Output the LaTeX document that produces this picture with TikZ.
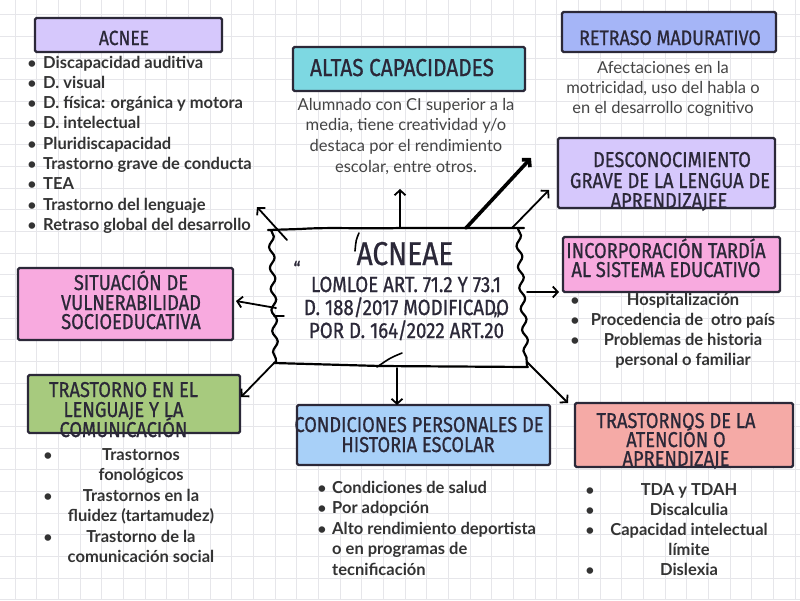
\documentclass[tikz,border=0pt]{standalone}
\usepackage{fontspec}
\setmainfont{Lato}
\newfontfamily\headfont[FakeStretch=0.85,FakeBold=0.8]{Fira Sans}
\usetikzlibrary{arrows.meta,decorations.pathmorphing}
\definecolor{ink}{HTML}{2B2838}
\definecolor{txt}{HTML}{333333}
\definecolor{dtxt}{HTML}{444444}
\definecolor{gridc}{HTML}{E6E6EA}
\definecolor{cLav}{HTML}{D6C8FC}
\definecolor{cCyan}{HTML}{7DD8E2}
\definecolor{cPeri}{HTML}{A5B5F7}
\definecolor{cPink}{HTML}{F8AADF}
\definecolor{cGreen}{HTML}{A7CA7E}
\definecolor{cBlue}{HTML}{A8D0F8}
\definecolor{cSalmon}{HTML}{F5AAA6}
\tikzset{
 hbox/.style={draw=ink, line width=2.2pt, rounded corners=1.5pt, inner sep=0pt},
 hline/.style={font={\headfont\fontsize{#1}{#1}\selectfont}, text=ink, inner sep=0pt, anchor=base},
 hline/.default=21.5,
 bitem/.style={font={\bfseries\fontsize{16.5}{18}\selectfont}, text=txt, inner sep=0pt, anchor=base west},
 citem/.style={font={\bfseries\fontsize{16.5}{18}\selectfont}, text=txt, inner sep=0pt, anchor=base},
 ditem/.style={font={\fontsize{16.5}{18}\selectfont}, text=dtxt, inner sep=0pt, anchor=base},
 bul/.style={font={\bfseries\fontsize{15}{18}\selectfont}, text=txt, inner sep=0pt, anchor=base},
 arr/.style={draw=black, line width=1.8pt, line cap=round, line join=round, -{Straight Barb[length=5pt,width=11pt]}},
 arrthick/.style={arr, line width=3.6pt},
 wavy/.style={draw=black, line width=2.2pt, line cap=round, line join=round},
}
\begin{document}
\begin{tikzpicture}[x=1pt,y=-1pt]
\useasboundingbox (0,0) rectangle (800,600);
\fill[white] (0,0) rectangle (800,600);
% grid
\foreach \i in {0,...,36} \draw[gridc, line width=0.7pt] ({15+21.67*\i},0) -- ({15+21.67*\i},600);
\foreach \i in {0,...,27} \draw[gridc, line width=0.7pt] (0,{14.6+21.67*\i}) -- (800,{14.6+21.67*\i});

% ---------- heading boxes ----------
\node[hbox, fill=cLav, minimum width=187pt, minimum height=34pt] (acnee) at (128.5,35) {};
\node[hline=20.5] (acneeT) at (124,45) {ACNEE};

\node[hbox, fill=cCyan, minimum width=232pt, minimum height=44pt] (altas) at (409,69) {};
\node[hline=24.5] (altasT) at (402,76) {ALTAS CAPACIDADES};

\node[hbox, fill=cPeri, minimum width=214pt, minimum height=40pt] (retraso) at (669,32) {};
\node[hline=21] (retrasoT) at (670,45) {RETRASO MADURATIVO};

\node[hbox, fill=cLav, minimum width=217pt, minimum height=70pt] (descon) at (666.5,173) {};
\node[hline] (desconT1) at (672,167) {DESCONOCIMIENTO};
\node[hline] (desconT2) at (670,188) {GRAVE DE LA LENGUA DE};
\node[hline] (desconT3) at (669,208) {APRENDIZAJEE};

\node[hbox, fill=cPink, minimum width=217pt, minimum height=55pt] (incorp) at (671.5,264.5) {};
\node[hline] (incorpT1) at (666,258) {INCORPORACIÓN TARDÍA};
\node[hline] (incorpT2) at (666,277) {AL SISTEMA EDUCATIVO};

\node[hbox, fill=cPink, minimum width=215pt, minimum height=72pt] (situ) at (125.5,304) {};
\node[hline] (situT1) at (131,290) {SITUACIÓN DE};
\node[hline] (situT2) at (131,310) {VULNERABILIDAD};
\node[hline] (situT3) at (131,329) {SOCIOEDUCATIVA};

\node[hbox, fill=cGreen, minimum width=212pt, minimum height=58pt] (leng) at (134,404) {};
\node[hline] (lengT1) at (123.5,397) {TRASTORNO EN EL};
\node[hline] (lengT2) at (123.5,417) {LENGUAJE Y LA};
\node[hline] (lengT3) at (123.5,437) {COMUNICACIÓN};

\node[hbox, fill=cBlue, minimum width=253pt, minimum height=60pt] (cond) at (423.5,435) {};
\node[hline] (condT1) at (419,432) {CONDICIONES PERSONALES DE};
\node[hline] (condT2) at (418,452) {HISTORIA ESCOLAR};

\node[hbox, fill=cSalmon, minimum width=218pt, minimum height=64pt] (aten) at (684,435) {};
\node[hline] (atenT1) at (676,428) {TRASTORNOS DE LA};
\node[hline] (atenT2) at (676,447) {ATENCIÓN O};
\node[hline] (atenT3) at (676,466) {APRENDIZAJE};

% ---------- lists ----------
\foreach \t [count=\k] in {Discapacidad auditiva, D. visual, {D. física: orgánica y motora}, D. intelectual, Pluridiscapacidad, Trastorno grave de conducta, TEA, Trastorno del lenguaje, Retraso global del desarrollo} {
  \node[bitem] (acl\k) at (43,{68+20.3*(\k-1)}) {\t};
  \node[bul] (acb\k) at (32,{68+20.3*(\k-1)}) {•};
}

\foreach \t [count=\k] in {Alumnado con CI superior a la, {media, tiene creatividad y/o}, destaca por el rendimiento, {escolar, entre otros.}}
  \node[ditem] (altd\k) at (406,{110+20.7*(\k-1)}) {\t};

\foreach \t [count=\k] in {Afectaciones en la, {motricidad, uso del habla o}, en el desarrollo cognitivo}
  \node[ditem] (retd\k) at (663,{73+20*(\k-1)}) {\t};

\foreach \t [count=\k] in {Hospitalización, Procedencia de\ \ otro país, Problemas de historia, personal o familiar}
  \node[citem] (inc\k) at (683,{305+20.3*(\k-1)}) {\t};
\foreach \k in {1,2,3}
  \node[bul] (incb\k) at (575,{305+20.3*(\k-1)}) {•};

\foreach \t [count=\k] in {Trastornos, fonológicos, Trastornos en la, fluidez (tartamudez), Trastorno de la, comunicación social}
  \node[citem] (lgl\k) at (141,{460+20.5*(\k-1)}) {\t};
\foreach \k in {1,3,5}
  \node[bul] (lgb\k) at (48,{460+20.5*(\k-1)}) {•};

\foreach \t [count=\k] in {Condiciones de salud, Por adopción, Alto rendimiento deportista, o en programas de, tecnificación}
  \node[bitem] (cdl\k) at (332,{493+20.5*(\k-1)}) {\t};
\foreach \k in {1,2,3}
  \node[bul] (cdb\k) at (322,{493+20.5*(\k-1)}) {•};

\foreach \t [count=\k] in {TDA y TDAH, Discalculia, Capacidad intelectual, límite, Dislexia}
  \node[citem] (atl\k) at (689,{495+20*(\k-1)}) {\t};
\foreach \k in {1,2,3,5}
  \node[bul] (atb\k) at (590,{495+20*(\k-1)}) {•};

% ---------- central node ----------
\node[minimum width=258pt, minimum height=138pt, inner sep=0pt] (cen) at (398,297) {};
\draw[wavy] (268,230) -- (300,229) .. controls (330,227) and (360,229) .. (400,228) -- (524,228);
\draw[wavy, decorate, decoration={snake, amplitude=2.6pt, segment length=21pt}] (271,230) -- (276,363);
\draw[wavy, decorate, decoration={snake, amplitude=2.6pt, segment length=21pt}] (518,229) -- (527,366);
\draw[wavy] (274,363) -- (380,366) -- (528,367);
\draw[wavy, line width=1.6pt] (359,233) .. controls (356,240) .. (355,251);
\draw[wavy, line width=1.6pt] (377,367) .. controls (390,358) .. (402,353);
\draw[wavy, line width=1.4pt] (274,316) -- (284,316);
\node[hline=33] (cenT1) at (405,265) {ACNEAE};
\node[hline=22] (cenT2) at (406,292) {LOMLOE ART. 71.2 Y 73.1};
\node[hline=22] (cenT3) at (406.5,315) {D. 188/2017 MODIFICADO};
\node[hline=22] (cenT4) at (406.5,338) {POR D. 164/2022 ART.20};
\node[hline=20] (q1) at (297,276) {“};
\node[hline=20] (q2) at (497,327) {”};

% ---------- connectors ----------
\coordinate (s1) at (287,240);  \coordinate (e1) at (257,207);
\coordinate (s2) at (400,228);  \coordinate (e2) at (400,189);
\coordinate (s3) at (466,228);  \coordinate (e3) at (531,158);
\coordinate (s4) at (512,228);  \coordinate (e4) at (549,190);
\coordinate (s5) at (527,292);  \coordinate (e5) at (559,292);
\coordinate (s6) at (276,308);  \coordinate (e6) at (236,301);
\coordinate (s7) at (275,362);  \coordinate (e7) at (241,397);
\coordinate (s8) at (397,368);  \coordinate (e8) at (397,405);
\coordinate (s9) at (527,362);  \coordinate (e9) at (568,403);
\draw[arr] (s1) -- (e1);
\draw[arr] (s2) -- (e2);
\draw[arrthick] (s3) -- (e3);
\draw[arr] (s4) -- (e4);
\draw[arr] (s5) -- (e5);
\draw[arr] (s6) -- (e6);
\draw[arr] (s7) -- (e7);
\draw[arr] (s8) -- (e8);
\draw[arr] (s9) -- (e9);
\end{tikzpicture}
\end{document}
